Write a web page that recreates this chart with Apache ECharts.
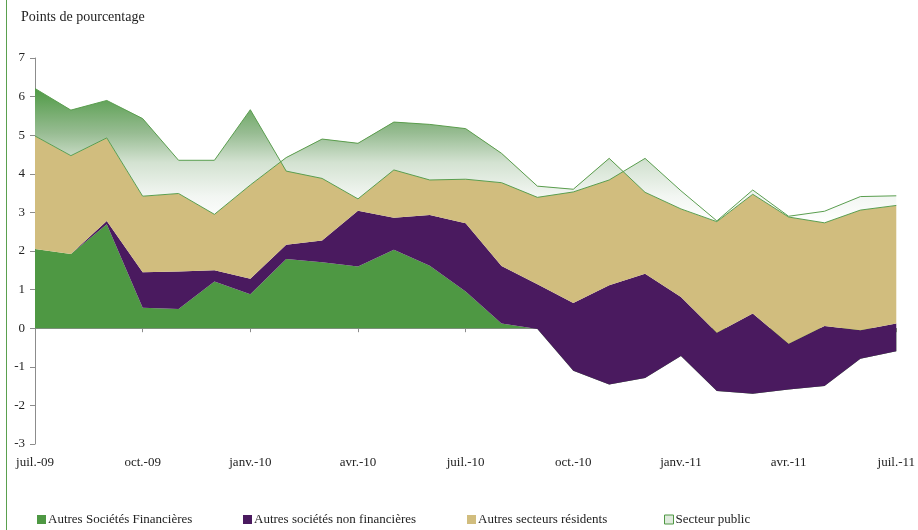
<!DOCTYPE html>
<html>
<head>
<meta charset="utf-8">
<script src="https://cdn.jsdelivr.net/npm/echarts@6/dist/echarts.min.js"></script>
<style>
html,body{margin:0;padding:0;background:#fff;}
#chart{width:918px;height:530px;}
</style>
</head>
<body>
<div id="chart"></div>
<script>
var months = ['juil.-09','août-09','sept.-09','oct.-09','nov.-09','déc.-09','janv.-10','févr.-10','mars-10','avr.-10','mai-10','juin-10',
  'juil.-10','août-10','sept.-10','oct.-10','nov.-10','déc.-10','janv.-11','févr.-11','mars-11','avr.-11','mai-11','juin-11','juil.-11'];
var asf  = [2.05, 1.92, 2.69, 0.53, 0.50, 1.21, 0.88, 1.79, 1.71, 1.60, 2.03, 1.62, 0.95, 0.12, -0.02, -1.10, -1.46, -1.29, -0.72, -1.63, -1.70, -1.59, -1.50, -0.79, -0.60];
var asnf = [0.00, 0.00, 0.09, 0.92, 0.97, 0.29, 0.40, 0.37, 0.56, 1.44, 0.83, 1.31, 1.77, 1.49, 1.16, 1.75, 2.57, 2.70, 1.53, 1.51, 2.08, 1.19, 1.56, 0.74, 0.72];
var asr  = [2.93, 2.55, 2.15, 1.97, 2.02, 1.45, 2.43, 2.26, 2.63, 1.75, 2.48, 2.35, 2.45, 2.92, 2.54, 2.95, 3.29, 2.11, 2.28, 2.88, 3.09, 3.28, 2.67, 3.11, 3.06];
var sp   = [1.23, 1.18, 0.97, 2.01, 0.86, 1.40, 1.95, -0.35, -1.02, -1.44, -1.24, -1.44, -1.31, -0.76, -0.29, -0.07, -0.56, 0.88, 0.47, 0.02, 0.11, 0.02, 0.30, 0.35, 0.25];
var seriesNames = ['Autres Sociétés Financières', 'Autres sociétés non financières', 'Autres secteurs résidents', 'Secteur public'];
var yTicks = [-3, -2, -1, 0, 1, 2, 3, 4, 5, 6, 7];

var FONT = 'Liberation Serif';
var cGreen = '#4e9843', cPurple = '#4a1a5f', cBeige = '#d1bd7e', cLine = '#5a9e4f';

// cumulative top of "Autres secteurs résidents" (border line drawn around the public area)
var c3 = asf.map(function(v, i){ return +(v + asnf[i] + asr[i]).toFixed(3); });

var grad = new echarts.graphic.LinearGradient(0, 0, 0, 1, [
  {offset: 0, color: '#4f9a45'},
  {offset: 0.33, color: '#97bc92'},
  {offset: 0.55, color: '#d3e2d1'},
  {offset: 0.8, color: '#f2f6f2'},
  {offset: 1, color: '#ffffff'}
]);

function stacked(name, data, color, extra) {
  var s = {
    name: name, type: 'line', stack: 'total', stackStrategy: 'all',
    data: data, symbol: 'none', smooth: false,
    xAxisIndex: 0, yAxisIndex: 0,
    lineStyle: {width: 0, color: color},
    itemStyle: {color: color},
    areaStyle: {color: color, opacity: 1}
  };
  if (extra) { for (var k in extra) s[k] = extra[k]; }
  return s;
}

function legendAt(left, name, itemStyle) {
  return {
    left: left, top: 513, padding: 0, orient: 'horizontal', icon: 'rect',
    itemWidth: 9, itemHeight: 9, selectedMode: false,
    textStyle: {fontFamily: FONT, fontSize: 13, color: '#222', padding: [0, 0, 0, -3]},
    data: [{name: name, itemStyle: itemStyle}]
  };
}

var chart = echarts.init(document.getElementById('chart'), null, {renderer: 'canvas'});
chart.setOption({
  animation: false,
  backgroundColor: '#ffffff',
  textStyle: {fontFamily: FONT},
  title: {
    text: 'Points de pourcentage', left: 21, top: 10, padding: 0,
    textStyle: {fontFamily: FONT, fontSize: 14, fontWeight: 'normal', color: '#222'}
  },
  graphic: [{
    type: 'line', shape: {x1: 6.5, y1: 0, x2: 6.5, y2: 530},
    style: {stroke: '#5aa04e', lineWidth: 1}
  }],
  legend: [
    legendAt(37, seriesNames[0], {color: cGreen}),
    legendAt(243, seriesNames[1], {color: cPurple}),
    legendAt(467, seriesNames[2], {color: cBeige}),
    legendAt(664, seriesNames[3], {color: '#dfeadd', borderColor: '#4e9843', borderWidth: 1})
  ],
  grid: {left: 35, right: 21, top: 58, bottom: 86, containLabel: false},
  xAxis: [{
    type: 'category', data: months, boundaryGap: false, position: 'bottom',
    axisLine: {onZero: true, lineStyle: {color: '#8c8c8c', width: 1}},
    axisTick: {show: true, interval: 2, length: 4, inside: false, lineStyle: {color: '#8c8c8c'}},
    axisLabel: {show: false},
    splitLine: {show: false}
  }, {
    type: 'category', data: months, boundaryGap: false, position: 'bottom',
    axisLine: {show: false, onZero: false},
    axisTick: {show: false},
    axisLabel: {show: true, interval: 2, margin: 12, fontFamily: FONT, fontSize: 13, color: '#222'},
    splitLine: {show: false}
  }],
  yAxis: {
    type: 'value', min: yTicks[0], max: yTicks[yTicks.length - 1], interval: 1,
    axisLine: {show: true, onZero: false, lineStyle: {color: '#8c8c8c', width: 1}},
    axisTick: {show: true, length: 5, lineStyle: {color: '#8c8c8c'}},
    axisLabel: {margin: 10, fontFamily: FONT, fontSize: 13, color: '#222'},
    splitLine: {show: false}
  },
  series: [
    stacked(seriesNames[0], asf, cGreen),
    stacked(seriesNames[1], asnf, cPurple),
    stacked(seriesNames[2], asr, cBeige),
    stacked(seriesNames[3], sp, cLine, {
      lineStyle: {width: 1, color: cLine},
      itemStyle: {color: cLine},
      areaStyle: {color: grad, opacity: 1}
    }),
    {
      name: 'bord', type: 'line', data: c3, symbol: 'none', silent: true,
      xAxisIndex: 0, yAxisIndex: 0, z: 5,
      lineStyle: {width: 1, color: cLine}
    }
  ]
});
</script>
</body>
</html>
